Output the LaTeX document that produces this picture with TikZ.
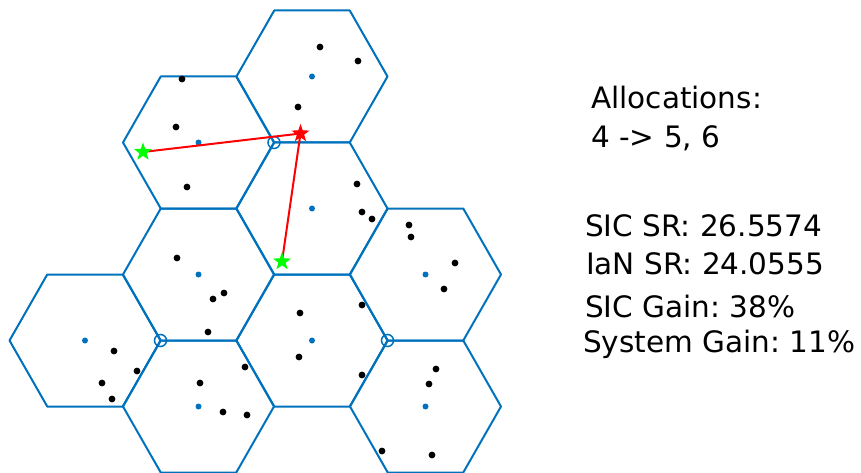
\documentclass[tikz,border=0pt]{standalone}
\usepackage{fontspec}
\setmainfont{DejaVu Sans}
\usepackage{tikz}
\usetikzlibrary{shapes.geometric}
\definecolor{cellblue}{rgb}{0,0.447,0.741}
\frenchspacing
\tikzset{
	cell/.style={draw=cellblue, line width=2pt, line join=round},
	hub/.style={draw=cellblue, line width=1.5pt},
	bsdot/.style={fill=cellblue},
	uedot/.style={fill=black},
	starmark/.style={star, star points=5, star point ratio=2.5, inner sep=0pt, minimum size=16pt, line width=1pt},
	link/.style={draw=red, line width=2pt},
	info/.style={anchor=base west, inner sep=0pt, font=\fontsize{29.5}{31}\selectfont}
}

\begin{document}
\begin{tikzpicture}[x=1pt, y=-1pt]
	\useasboundingbox (0,0) rectangle (861,473);
	\foreach \cx/\cy/\nm in {85/340.5/A, 198.5/142.5/B, 198.5/274.5/C, 198.5/406.5/D, 312/76.5/E, 312/208.5/F, 312/340.5/G, 425.5/274.5/H, 425.5/406.5/I}{
		\coordinate (c\nm) at (\cx,\cy);
		\draw[cell] (c\nm) ++(-75.5,0) -- ++(37.75,-66) -- ++(75.5,0) -- ++(37.75,66) -- ++(-37.75,66) -- ++(-75.5,0) -- cycle;
		\fill[bsdot] (c\nm) circle (3);
	}
	\draw[hub] (274,142.5) circle (6);
	\draw[hub] (160.5,340.5) circle (6);
	\draw[hub] (387.5,340.5) circle (6);
	\foreach \ux/\uy in {320/47, 358/61, 298/107, 182/79, 176/127, 187/187, 357/184, 362/212, 372/219,
		409/225, 411/237, 455/263, 444/289, 177/258, 224/293, 213/299, 208/332,
		114/351, 137/371, 102/383, 112/399, 245/367, 200/383, 223/412, 247/415,
		362/305, 300/313, 299/357, 362/375, 436/369, 429/384, 382/451, 432/455}
		\fill[uedot] (\ux,\uy) circle (3.4);
	\coordinate (txpos) at (300.5,133.5);
	\coordinate (rxa) at (143,152);
	\coordinate (rxb) at (282,261.5);
	\draw[link] (rxa) -- (txpos);
	\draw[link] (txpos) -- (rxb);
	\node[starmark, draw=red, fill=red] (tx) at (txpos) {};
	\node[starmark, draw=green, fill=green] (rx1) at (rxa) {};
	\node[starmark, draw=green, fill=green] (rx2) at (rxb) {};
	\node[info] (alloc) at (591,109) {Allocations:};
	\node[info] (pair) at (591,148) {4 -> 5, 6};
	\node[info] (sicsr) at (585,236) {SIC SR: 26.5574};
	\node[info] (iansr) at (586,274) {IaN SR: 24.0555};
	\node[info] (sicgain) at (585,317) {SIC Gain: 38\%};
	\node[info] (sysgain) at (583,352) {System Gain: 11\%};
\end{tikzpicture}
\end{document}
